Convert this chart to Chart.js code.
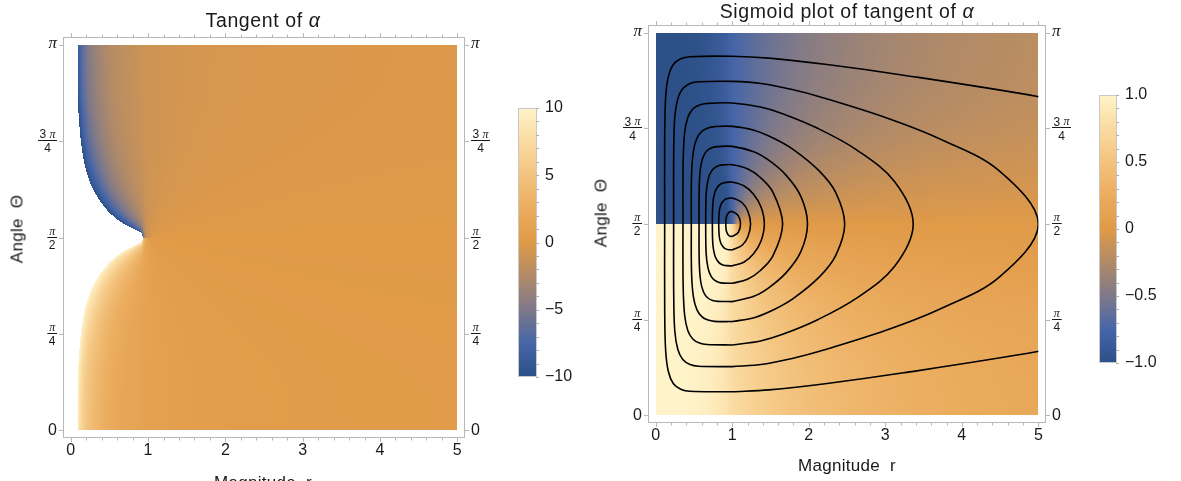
<!DOCTYPE html>
<html>
<head>
<meta charset="utf-8">
<script src="https://cdn.jsdelivr.net/npm/chart.js@4.4.1/dist/chart.umd.min.js"></script>
<style>
  body { margin: 0; background: #fff; }
  #page { position: relative; width: 1181px; height: 481px; overflow: hidden;
          font-family: "Liberation Sans", Arial, sans-serif; color: #1a1a1a; }
  canvas { position: absolute; }
  .label { position: absolute; white-space: nowrap; transform: translate(-50%, -50%); line-height: 1; }
  .title { font-size: 19.5px; letter-spacing: 0.6px; }
  .axis { font-size: 17px; letter-spacing: 0.3px; }
  .greek { font-style: italic; }
</style>
</head>
<body>
<div id="page">
  <canvas id="tanChart" width="500" height="481" style="left:0;top:0"></canvas>
  <canvas id="tanBar" width="80" height="481" style="left:500px;top:0"></canvas>
  <canvas id="sigChart" width="520" height="481" style="left:590px;top:0"></canvas>
  <canvas id="sigBar" width="101" height="481" style="left:1080px;top:0"></canvas>

  <div class="label title" style="left:263px;top:21px">Tangent of <span class="greek">α</span></div>
  <div class="label title" style="left:847px;top:12px">Sigmoid plot of tangent of <span class="greek">α</span></div>
  <div class="label axis" style="left:263px;top:482px">Magnitude&nbsp; r</div>
  <div class="label axis" style="left:847px;top:465px">Magnitude&nbsp; r</div>
  <div class="label axis" style="left:17px;top:229px;transform:translate(-50%,-50%) rotate(-90deg)">Angle&nbsp; Θ</div>
  <div class="label axis" style="left:601px;top:213px;transform:translate(-50%,-50%) rotate(-90deg)">Angle&nbsp; Θ</div>
</div>

<script>
// Angle rows (degrees) shared by both density grids; the field jumps between 89.9 and 90.1
const thetaRows = [0, 20, 40, 55, 67, 77, 84, 88, 89.9, 90.1, 92, 96, 103, 113, 125, 140, 160, 180];
const jumpRow = 8;

// Magnitude columns
const tanRadii = [0.1, 0.2, 0.25, 0.33, 0.5, 0.67, 0.8, 0.91, 1, 1.1, 1.25, 1.5, 2, 3, 4, 5];
const sigRadii = [0, 0.1, 0.2, 0.25, 0.33, 0.5, 0.67, 0.8, 0.91, 1, 1.1, 1.25, 1.5, 2, 3, 4, 5];

// tan(alpha), one row per angle
const tanAlpha = [
  [8.6, 5.3, 4.5, 3.65, 2.41, 1.75, 1.43, 1.21, 1, 0.91, 0.8, 0.67, 0.5, 0.33, 0.25, 0.2],
  [9.1, 5.6, 4.75, 3.85, 2.52, 1.8, 1.46, 1.22, 1, 0.9, 0.79, 0.65, 0.48, 0.32, 0.24, 0.19],
  [11.1, 6.8, 5.7, 4.6, 2.95, 2.03, 1.58, 1.28, 1, 0.88, 0.75, 0.59, 0.42, 0.27, 0.2, 0.16],
  [14.8, 9.0, 7.6, 6.05, 3.75, 2.46, 1.82, 1.38, 1, 0.85, 0.68, 0.51, 0.34, 0.21, 0.15, 0.12],
  [21.7, 13.2, 11.0, 8.75, 5.3, 3.31, 2.29, 1.59, 1, 0.79, 0.58, 0.4, 0.24, 0.14, 0.1, 0.08],
  [37.6, 22.7, 19.0, 15.1, 9.0, 5.4, 3.5, 2.15, 1, 0.66, 0.41, 0.25, 0.15, 0.08, 0.06, 0.05],
  [81, 48.9, 40.8, 32.3, 19.2, 11.3, 7.1, 3.87, 1, 0.44, 0.22, 0.12, 0.07, 0.04, 0.03, 0.02],
  [243, 146, 122, 97, 57, 33.7, 20.9, 10.9, 1, 0.18, 0.08, 0.04, 0.02, 0.01, 0.01, 0.01],
  [4850, 2930, 2440, 1930, 1150, 673, 416, 216, 1, 0.01, 0, 0, 0, 0, 0, 0],
  [-4850, -2930, -2440, -1930, -1150, -673, -416, -216, -1, -0.01, 0, 0, 0, 0, 0, 0],
  [-243, -146, -122, -97, -57, -33.7, -20.9, -10.9, -1, -0.18, -0.08, -0.04, -0.02, -0.01, -0.01, -0.01],
  [-81, -48.9, -40.8, -32.3, -19.2, -11.3, -7.1, -3.87, -1, -0.44, -0.22, -0.12, -0.07, -0.04, -0.03, -0.02],
  [-37.6, -22.7, -19.0, -15.1, -9.0, -5.4, -3.5, -2.15, -1, -0.66, -0.41, -0.25, -0.15, -0.08, -0.06, -0.05],
  [-21.7, -13.2, -11.0, -8.75, -5.3, -3.31, -2.29, -1.59, -1, -0.79, -0.58, -0.4, -0.24, -0.14, -0.1, -0.08],
  [-14.8, -9.0, -7.6, -6.05, -3.75, -2.46, -1.82, -1.38, -1, -0.85, -0.68, -0.51, -0.34, -0.21, -0.15, -0.12],
  [-11.1, -6.8, -5.7, -4.6, -2.95, -2.03, -1.58, -1.28, -1, -0.88, -0.75, -0.59, -0.42, -0.27, -0.2, -0.16],
  [-9.1, -5.6, -4.75, -3.85, -2.52, -1.8, -1.46, -1.22, -1, -0.9, -0.79, -0.65, -0.48, -0.32, -0.24, -0.19],
  [-8.6, -5.3, -4.5, -3.65, -2.41, -1.75, -1.43, -1.21, -1, -0.91, -0.8, -0.67, -0.5, -0.33, -0.25, -0.2]
];

// sigmoid of tan(alpha), one row per angle
const sigmoidTan = [
  [1, 1, 1, 1, .999, .984, .941, .891, .836, .76, .72, .66, .585, .46, .32, .245, .2],
  [1, 1, 1, 1, .999, .987, .947, .897, .84, .76, .716, .658, .572, .446, .31, .235, .19],
  [1, 1, 1, 1, 1, .994, .966, .919, .856, .76, .706, .635, .53, .397, .264, .197, .16],
  [1, 1, 1, 1, 1, .999, .985, .948, .881, .76, .691, .592, .47, .327, .207, .149, .12],
  [1, 1, 1, 1, 1, 1, .997, .98, .921, .76, .658, .523, .38, .235, .139, .1, .08],
  [1, 1, 1, 1, 1, 1, 1, .998, .973, .76, .578, .388, .245, .149, .08, .06, .05],
  [1, 1, 1, 1, 1, 1, 1, 1, .999, .76, .414, .217, .119, .07, .04, .03, .02],
  [1, 1, 1, 1, 1, 1, 1, 1, 1, .76, .178, .08, .04, .02, .01, .01, .01],
  [1, 1, 1, 1, 1, 1, 1, 1, 1, .76, .01, 0, 0, 0, 0, 0, 0],
  [-1, -1, -1, -1, -1, -1, -1, -1, -1, -.76, -.01, 0, 0, 0, 0, 0, 0],
  [-1, -1, -1, -1, -1, -1, -1, -1, -1, -.76, -.178, -.08, -.04, -.02, -.01, -.01, -.01],
  [-1, -1, -1, -1, -1, -1, -1, -1, -.999, -.76, -.414, -.217, -.119, -.07, -.04, -.03, -.02],
  [-1, -1, -1, -1, -1, -1, -1, -.998, -.973, -.76, -.578, -.388, -.245, -.149, -.08, -.06, -.05],
  [-1, -1, -1, -1, -1, -1, -.997, -.98, -.921, -.76, -.658, -.523, -.38, -.235, -.139, -.1, -.08],
  [-1, -1, -1, -1, -1, -.999, -.985, -.948, -.881, -.76, -.691, -.592, -.47, -.327, -.207, -.149, -.12],
  [-1, -1, -1, -1, -1, -.994, -.966, -.919, -.856, -.76, -.706, -.635, -.53, -.397, -.264, -.197, -.16],
  [-1, -1, -1, -1, -.999, -.987, -.947, -.897, -.84, -.76, -.716, -.658, -.572, -.446, -.31, -.235, -.19],
  [-1, -1, -1, -1, -.999, -.984, -.941, -.891, -.836, -.76, -.72, -.66, -.585, -.46, -.32, -.245, -.2]
];

// Contour loops around r = 1, angle = π/2, as [r, angle in degrees]
const contourA = [[1,11.1],[1.48,12],[2.24,15],[3.24,20],[4.99,30],[7.2,45],[8.88,60],[10.28,90],[8.88,120],[7.2,135],[4.99,150],[3.24,160],[2.24,165],[1.48,168],[1,168.9],[0.447,168.7],[0.328,167.7],[0.23,165],[0.166,159.4],[0.13,149.2],[0.118,129.5],[0.118,90],[0.118,50.5],[0.13,30.8],[0.166,20.6],[0.23,15],[0.328,12.3],[0.447,11.3],[1,11.1]];
const contourB = [[1,22.9],[1.4,24],[1.81,27],[2.13,30],[3.01,40],[3.715,50],[4.49,65],[5,90],[4.49,115],[3.715,130],[3.01,140],[2.13,150],[1.81,153],[1.4,156],[1,157.1],[0.56,156.9],[0.449,156.1],[0.355,153.7],[0.29,149],[0.25,140.3],[0.236,123.5],[0.235,90],[0.236,56.5],[0.25,39.7],[0.29,31],[0.355,26.3],[0.449,23.9],[0.56,23.1],[1,22.9]];
const contourC = [[1,33.1],[1.37,35],[1.65,38],[2.117,45],[2.62,55],[3.12,70],[3.365,90],[3.12,110],[2.62,125],[2.117,135],[1.65,142],[1.37,145],[1,146.9],[0.671,146.7],[0.572,146],[0.485,144.1],[0.42,140.1],[0.378,132.7],[0.359,118.5],[0.357,90],[0.359,61.5],[0.378,47.3],[0.42,39.9],[0.485,35.9],[0.572,34],[0.671,33.3],[1,33.1]];
const contourD = [[1,44.1],[1.296,46],[1.561,50],[1.8,55],[2.136,65],[2.35,75],[2.47,90],[2.35,105],[2.136,115],[1.8,125],[1.561,130],[1.296,134],[1,135.9],[0.77,135.8],[0.684,135.2],[0.603,133.6],[0.54,130.4],[0.494,124.4],[0.469,113],[0.466,90],[0.469,67],[0.494,55.6],[0.54,49.6],[0.603,46.4],[0.684,44.8],[0.77,44.2],[1,44.1]];
const contourE = [[1,53.5],[1.282,56],[1.477,60],[1.703,67],[1.897,77],[1.984,90],[1.897,103],[1.703,113],[1.477,120],[1.282,124],[1,126.5],[0.813,126.4],[0.744,126],[0.678,124.7],[0.627,122.1],[0.59,117.4],[0.57,108.3],[0.567,90],[0.57,71.7],[0.59,62.6],[0.627,57.9],[0.678,55.3],[0.744,54],[0.813,53.6],[1,53.5]];
const contourF = [[1,62.1],[1.199,64],[1.365,68],[1.532,75],[1.659,90],[1.532,105],[1.365,112],[1.199,116],[1,117.9],[0.886,117.8],[0.83,117.5],[0.773,116.5],[0.725,114.6],[0.685,110.9],[0.66,104],[0.654,90],[0.66,76],[0.685,69.1],[0.725,65.4],[0.773,63.5],[0.83,62.5],[0.886,62.2],[1,62.1]];
const contourG = [[1,70.3],[1.152,72],[1.279,76],[1.377,82],[1.42,90],[1.377,98],[1.279,104],[1.152,108],[1,109.7],[0.93,109.6],[0.889,109.4],[0.845,108.7],[0.807,107.3],[0.773,104.8],[0.748,99.9],[0.741,90],[0.748,80.1],[0.773,75.2],[0.807,72.7],[0.845,71.3],[0.889,70.6],[0.93,70.4],[1,70.3]];
const contourH = [[1,77.8],[1.13,80],[1.205,84],[1.24,90],[1.205,96],[1.13,100],[1,102.2],[0.938,102],[0.908,101.6],[0.88,100.7],[0.853,99.2],[0.832,96.1],[0.824,90],[0.832,83.9],[0.853,80.8],[0.88,79.3],[0.908,78.4],[0.938,78],[1,77.8]];
const contourI = [[1,84.1],[1.078,86],[1.109,90],[1.078,94],[1,95.9],[0.964,95.6],[0.95,95.2],[0.936,94.4],[0.922,93],[0.916,90],[0.922,87],[0.936,85.6],[0.95,84.8],[0.964,84.4],[1,84.1]];

// Axis ticks
const magnitudeTicks = [0, 1, 2, 3, 4, 5];
const angleTicks = [0, 45, 90, 135, 180];
const angleTickLabels = [['0'], ['π', '4'], ['π', '2'], ['3 π', '4'], ['π']];
const tanBarTicks = [10, 5, 0, -5, -10];
const sigBarTicks = [1, 0.5, 0, -0.5, -1];
const sigBarLabels = ['1.0', '0.5', '0', '−0.5', '−1.0'];

// Blue -> grey -> orange -> cream ramp
const colorStops = [
  [0.0, [44, 80, 135]],
  [0.125, [70, 101, 168]],
  [0.25, [126, 121, 138]],
  [0.375, [177, 138, 104]],
  [0.5, [224, 154, 72]],
  [0.625, [235, 172, 94]],
  [0.75, [243, 195, 126]],
  [0.875, [250, 219, 161]],
  [1.0, [255, 243, 201]]
];

function colorAt(f) {
  f = Math.min(1, Math.max(0, f));
  for (let i = 1; i < colorStops.length; i++) {
    if (f <= colorStops[i][0]) {
      const [f0, c0] = colorStops[i - 1];
      const [f1, c1] = colorStops[i];
      const t = (f - f0) / (f1 - f0);
      return c0.map((c, k) => Math.round(c + (c1[k] - c) * t));
    }
  }
  return colorStops[colorStops.length - 1][1];
}

function locate(grid, v) {
  if (v < grid[0] || v > grid[grid.length - 1]) return null;
  let i = 0;
  while (i < grid.length - 2 && v > grid[i + 1]) i++;
  return i;
}

// Monotone cubic (PCHIP) between x1 and x2, no overshoot, uneven spacing allowed
function pchipSlope(da, db, ha, hb) {
  if (da * db <= 0) return 0;
  const w1 = 2 * hb + ha, w2 = hb + 2 * ha;
  return (w1 + w2) / (w1 / da + w2 / db);
}
function pchip(xs, ys, i0, i1, i2, i3, x) {
  const x1 = xs[i1], x2 = xs[i2], y1 = ys[i1], y2 = ys[i2];
  const h1 = x2 - x1, d1 = (y2 - y1) / h1;
  const m1 = i0 === i1 ? d1 : pchipSlope((y1 - ys[i0]) / (x1 - xs[i0]), d1, x1 - xs[i0], h1);
  const m2 = i3 === i2 ? d1 : pchipSlope(d1, (ys[i3] - y2) / (xs[i3] - x2), h1, xs[i3] - x2);
  const t = (x - x1) / h1, t2 = t * t, t3 = t2 * t;
  return (2 * t3 - 3 * t2 + 1) * y1 + (t3 - 2 * t2 + t) * h1 * m1 + (3 * t2 - 2 * t3) * y2 + (t3 - t2) * h1 * m2;
}

const clampIdx = (i, lo, hi) => Math.max(lo, Math.min(hi, i));

// Paints a gridded field behind the datasets; smooth inside each half, sharp at the jump row
const densityPlugin = {
  id: 'density',
  beforeDatasetsDraw(chart, args, opts) {
    const { ctx, chartArea: a, scales: { x, y } } = chart;
    const w = Math.round(a.right - a.left), h = Math.round(a.bottom - a.top);
    const off = document.createElement('canvas');
    off.width = w; off.height = h;
    const octx = off.getContext('2d');
    const img = octx.createImageData(w, h);
    const lim = Math.PI / 2 - 1e-7;
    const warp = opts.angular ? Math.atan : (v => v);
    const unwarp = opts.angular ? (v => Math.tan(Math.max(-lim, Math.min(lim, v)))) : (v => v);
    const field = opts.values.map(row => row.map(warp));
    const radii = opts.radii, thetas = opts.thetas;
    const nR = thetas.length, nC = radii.length;

    const cols = [];
    for (let i = 0; i < w; i++) {
      const r = x.getValueForPixel(a.left + i + 0.5);
      const ci = locate(radii, r);
      cols.push(ci === null ? null : [ci, r]);
    }
    const rowAt = (ri, col) => pchip(radii, field[ri],
      clampIdx(col[0] - 1, 0, nC - 1), col[0], col[0] + 1, clampIdx(col[0] + 2, 0, nC - 1), col[1]);

    for (let j = 0; j < h; j++) {
      const t = y.getValueForPixel(a.top + j + 0.5);
      const ri = locate(thetas, t);
      if (ri === null) continue;
      const lo = ri <= opts.jump ? 0 : opts.jump + 1;
      const hi = ri < opts.jump ? opts.jump : nR - 1;
      for (let i = 0; i < w; i++) {
        const col = cols[i];
        if (!col) continue;
        let u;
        if (ri === opts.jump) {
          u = rowAt(t < (thetas[ri] + thetas[ri + 1]) / 2 ? ri : ri + 1, col);
        } else {
          const r0 = clampIdx(ri - 1, lo, hi), r3 = clampIdx(ri + 2, lo, hi);
          const vals = [];
          vals[r0] = rowAt(r0, col); vals[ri] = rowAt(ri, col);
          vals[ri + 1] = rowAt(ri + 1, col); vals[r3] = rowAt(r3, col);
          u = pchip(thetas, vals, r0, ri, ri + 1, r3, t);
        }
        let v = unwarp(u);
        if (opts.clampRange) v = Math.max(opts.min, Math.min(opts.max, v));
        if (v < opts.min || v > opts.max) continue;
        const rgb = colorAt((v - opts.min) / (opts.max - opts.min));
        const k = (j * w + i) * 4;
        img.data[k] = rgb[0]; img.data[k + 1] = rgb[1]; img.data[k + 2] = rgb[2]; img.data[k + 3] = 255;
      }
    }
    octx.putImageData(img, 0, 0);
    ctx.drawImage(off, a.left, a.top);
  }
};

function drawAngleLabel(ctx, parts, x, yMid, align) {
  ctx.textBaseline = 'middle';
  if (parts.length === 1) {
    const isPi = parts[0] === 'π';
    ctx.font = isPi ? 'italic 17px "Liberation Serif"' : '16px "Liberation Sans"';
    ctx.textAlign = align;
    ctx.fillText(parts[0], x, yMid + (isPi ? -1 : 0));
    return;
  }
  const num = parts[0], den = parts[1];
  ctx.font = '12px "Liberation Sans"';
  const threeW = num.startsWith('3') ? ctx.measureText('3 ').width : 0;
  const denW = ctx.measureText(den).width;
  ctx.font = 'italic 12px "Liberation Serif"';
  const piW = ctx.measureText('π').width;
  const numW = threeW + piW;
  const barW = Math.max(numW, denW) + 3;
  const left = align === 'right' ? x - barW : x;
  const cx = left + barW / 2;
  const start = cx - numW / 2;
  ctx.textAlign = 'left';
  if (threeW) {
    ctx.font = '12px "Liberation Sans"';
    ctx.fillText('3', start, yMid - 6);
  }
  ctx.font = 'italic 12px "Liberation Serif"';
  ctx.fillText('π', start + threeW, yMid - 6);
  ctx.textAlign = 'center';
  ctx.font = '12px "Liberation Sans"';
  ctx.fillText(den, cx, yMid + 8);
  ctx.fillRect(left, Math.round(yMid - 1), barW, 1);
}

// Frame, tick marks and tick labels placed through the chart scales
const frameAxes = {
  id: 'frameAxes',
  afterDatasetsDraw(chart) {
    const { ctx, chartArea: a, scales: { x, y } } = chart;
    ctx.save();
    ctx.strokeStyle = '#b8b8b8';
    ctx.lineWidth = 1;
    ctx.strokeRect(Math.round(a.left) + 0.5, Math.round(a.top) + 0.5,
      Math.round(a.right - a.left) - 1, Math.round(a.bottom - a.top) - 1);
    ctx.beginPath();
    for (let v = 0; v <= 5.0001; v += 0.2) {
      const px = Math.round(x.getPixelForValue(v)) + 0.5;
      const major = Math.abs(v - Math.round(v)) < 1e-6;
      const len = major ? 4 : 2.5;
      ctx.moveTo(px, a.bottom); ctx.lineTo(px, a.bottom + len);
      ctx.moveTo(px, a.top); ctx.lineTo(px, a.top - len);
    }
    angleTicks.forEach(t => {
      const py = Math.round(y.getPixelForValue(t)) + 0.5;
      ctx.moveTo(a.left, py); ctx.lineTo(a.left - 4, py);
      ctx.moveTo(a.right, py); ctx.lineTo(a.right + 4, py);
    });
    ctx.stroke();

    ctx.fillStyle = '#1a1a1a';
    ctx.font = '16px "Liberation Sans"';
    ctx.textAlign = 'center';
    ctx.textBaseline = 'top';
    magnitudeTicks.forEach(v => ctx.fillText(String(v), x.getPixelForValue(v), a.bottom + 5));
    angleTicks.forEach((t, i) => {
      const py = y.getPixelForValue(t);
      drawAngleLabel(ctx, angleTickLabels[i], a.left - 6, py, 'right');
      drawAngleLabel(ctx, angleTickLabels[i], a.right + 6, py, 'left');
    });
    ctx.restore();
  }
};

// Vertical colour ramp with ticks for the legend bars
const colorRamp = {
  id: 'colorRamp',
  beforeDatasetsDraw(chart, args, opts) {
    const { ctx, chartArea: a, scales: { y } } = chart;
    ctx.save();
    for (let py = Math.round(a.top); py < Math.round(a.bottom); py++) {
      const v = y.getValueForPixel(py + 0.5);
      const rgb = colorAt((v - opts.min) / (opts.max - opts.min));
      ctx.fillStyle = `rgb(${rgb[0]},${rgb[1]},${rgb[2]})`;
      ctx.fillRect(a.left, py, a.right - a.left, 1);
    }
    ctx.strokeStyle = '#c8c8c8';
    ctx.strokeRect(Math.round(a.left) + 0.5, Math.round(a.top) + 0.5,
      Math.round(a.right - a.left) - 1, Math.round(a.bottom - a.top) - 1);
    ctx.beginPath();
    for (let k = 0; k <= opts.minorCount; k++) {
      const v = opts.min + (opts.max - opts.min) * k / opts.minorCount;
      const py = Math.round(y.getPixelForValue(v)) + 0.5;
      ctx.moveTo(a.right - 1, py); ctx.lineTo(a.right + 2, py);
    }
    ctx.strokeStyle = '#b0b0b0';
    ctx.stroke();
    ctx.fillStyle = '#1a1a1a';
    ctx.font = '16px "Liberation Sans"';
    ctx.textAlign = 'left';
    ctx.textBaseline = 'middle';
    opts.ticks.forEach((v, i) => {
      ctx.fillText(opts.labels[i], a.right + 8, y.getPixelForValue(v));
    });
    ctx.restore();
  }
};

function baseOptions(padding, xRange, yRange) {
  return {
    responsive: false,
    animation: false,
    devicePixelRatio: 1,
    layout: { padding },
    plugins: { legend: { display: false }, tooltip: { enabled: false } },
    scales: {
      x: { type: 'linear', min: xRange[0], max: xRange[1], display: false },
      y: { type: 'linear', min: yRange[0], max: yRange[1], display: false }
    }
  };
}

// Left: tangent of alpha (values beyond ±10 stay blank)
const tanOptions = baseOptions({ left: 63, top: 37, right: 35, bottom: 43 }, [-0.1, 5.1], [-3.6, 183.6]);
tanOptions.plugins.density = { radii: tanRadii, thetas: thetaRows, values: tanAlpha, jump: jumpRow,
  min: -10, max: 10, angular: true, clampRange: false };
new Chart(document.getElementById('tanChart'), {
  type: 'scatter',
  data: { datasets: [] },
  options: tanOptions,
  plugins: [densityPlugin, frameAxes]
});

// Right: sigmoid of tangent with contour loops
const loops = [contourA, contourB, contourC, contourD, contourE, contourF, contourG, contourH, contourI];
const sigOptions = baseOptions({ left: 58, top: 25, right: 64, bottom: 58 }, [-0.1, 5.1], [-3.6, 183.6]);
sigOptions.plugins.density = { radii: sigRadii, thetas: thetaRows, values: sigmoidTan, jump: jumpRow,
  min: -1, max: 1, angular: false, clampRange: true };
new Chart(document.getElementById('sigChart'), {
  type: 'scatter',
  data: {
    datasets: loops.map(loop => ({
      data: loop.map(([r, t]) => ({ x: r, y: t })),
      showLine: true,
      borderColor: '#000',
      borderWidth: 1.6,
      pointRadius: 0,
      tension: 0.35,
      clip: { left: -7.6, right: -7.6, top: -7.6, bottom: -7.6 }
    }))
  },
  options: sigOptions,
  plugins: [densityPlugin, frameAxes]
});

// Legend bars
const tanBarOptions = baseOptions({ left: 18, top: 108, right: 43, bottom: 104 }, [0, 1], [-10, 10]);
tanBarOptions.plugins.colorRamp = { min: -10, max: 10, minorCount: 20, ticks: tanBarTicks,
  labels: tanBarTicks.map(v => v < 0 ? '−' + Math.abs(v) : String(v)) };
new Chart(document.getElementById('tanBar'), {
  type: 'scatter', data: { datasets: [] }, options: tanBarOptions, plugins: [colorRamp]
});

const sigBarOptions = baseOptions({ left: 19, top: 95, right: 64, bottom: 118 }, [0, 1], [-1, 1]);
sigBarOptions.plugins.colorRamp = { min: -1, max: 1, minorCount: 20, ticks: sigBarTicks, labels: sigBarLabels };
new Chart(document.getElementById('sigBar'), {
  type: 'scatter', data: { datasets: [] }, options: sigBarOptions, plugins: [colorRamp]
});
</script>
</body>
</html>
